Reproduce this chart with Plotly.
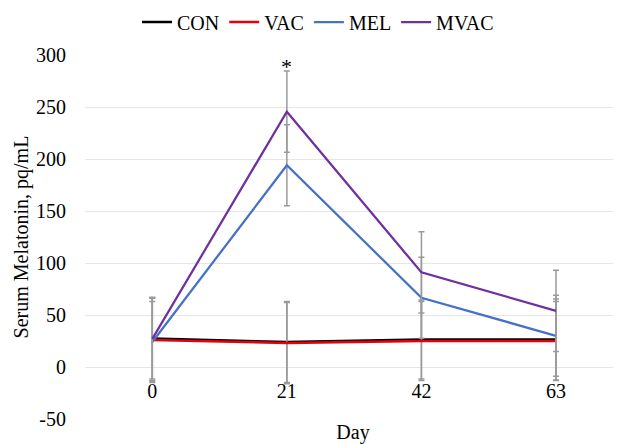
import plotly.graph_objects as go

days = ["0", "21", "42", "63"]
con = [27.5, 24, 26.5, 26.5]
vac = [26, 23, 25, 25]
mel = [24, 194, 66.6, 30]
mvac = [27, 245.5, 91, 54]
con_err = [39, 39, 38, 39]
vac_err = [40, 39, 38, 38]
mel_err = [39, 39, 39, 39]
mvac_err = [40, 39, 39, 39]
y_ticks = [-50, 0, 50, 100, 150, 200, 250, 300]
y_tick_labels = ["-50", "0", "50", "100", "150", "200", "250", "300"]
sig_day = "21"
sig_value = 284.5

series = [
    ("CON", con, con_err, "#000000", 2.5),
    ("VAC", vac, vac_err, "#e3000f", 2.5),
    ("MEL", mel, mel_err, "#4472c4", 2.25),
    ("MVAC", mvac, mvac_err, "#7030a0", 2.25),
]

FONT = "Liberation Serif"
fig = go.Figure()
for name, vals, err, color, w in series:
    fig.add_trace(go.Scatter(
        x=days, y=vals, name=name, mode="lines",
        line=dict(color=color, width=w),
        error_y=dict(type="data", array=err, visible=True,
                     color="#9a9a9a", thickness=1.5, width=3),
    ))

fig.add_annotation(x=days.index(sig_day), y=sig_value, text="*", showarrow=False,
                   yanchor="bottom", yshift=-10,
                   font=dict(family=FONT, size=22, color="#000"))

fig.update_layout(
    width=613, height=436,
    margin=dict(l=77, r=0, t=47, b=25, autoexpand=False),
    paper_bgcolor="white", plot_bgcolor="white",
    font=dict(family=FONT, size=20, color="#000"),
    showlegend=True,
    legend=dict(orientation="h", xref="container", yref="container",
                x=310 / 613, xanchor="center", y=1 - 14 / 436, yanchor="middle",
                font=dict(family=FONT, size=20, color="#000"),
                itemwidth=30, tracegroupgap=0),
    xaxis=dict(type="category", range=[-0.5, 3.483], automargin=False,
               showgrid=False, zeroline=False, showline=False,
               anchor="free", position=50 / 350, ticks="",
               ticklabelstandoff=10,
               title=dict(text="Day", standoff=27,
                          font=dict(family=FONT, size=20))),
    yaxis=dict(range=[-50, 300], tickvals=y_ticks, ticktext=y_tick_labels,
               showgrid=True, automargin=False,
               gridcolor="#e6e6e6", gridwidth=1, zeroline=False,
               showline=False, ticks="", ticklabelstandoff=18,
               title=dict(text="Serum Melatonin, pq/mL", standoff=2,
                          font=dict(family=FONT, size=20))),
)

fig.write_html("out.html")
